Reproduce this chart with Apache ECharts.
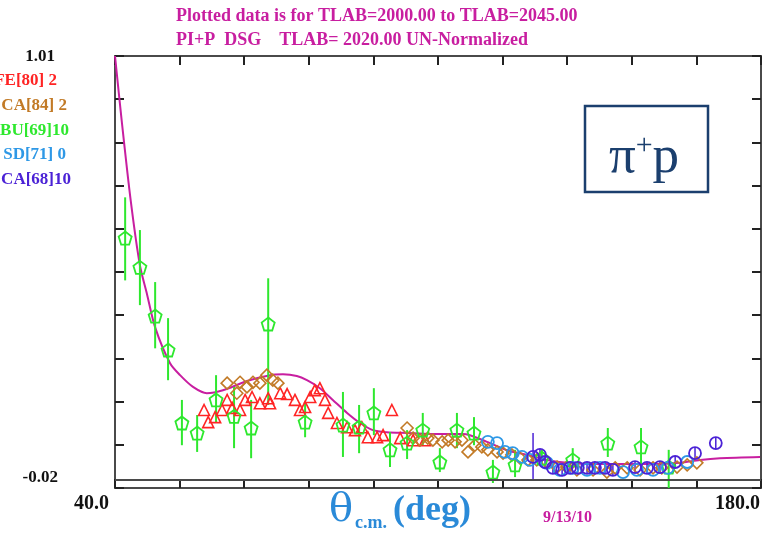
<!DOCTYPE html>
<html><head><meta charset="utf-8">
<script src="https://cdn.jsdelivr.net/npm/echarts@6/dist/echarts.min.js"></script>
<style>html,body{margin:0;padding:0;background:#fff}#c{width:776px;height:533px}</style>
</head><body><div id="c"></div>
<script>
// ---------- data (x = theta c.m. in deg, y = dsg) ----------
const titleLines = ["Plotted data is for TLAB=2000.00 to TLAB=2045.00", "PI+P  DSG    TLAB= 2020.00 UN-Normalized"];
const legendNames = ["FE[80] 2", "CA[84] 2", "BU[69]10", "SD[71] 0", "CA[68]10"];
const xTickLabels = ["40.0", "180.0"];
const yTickLabels = ["1.01", "-0.02"];
const dateLabel = "9/13/10";

// fit curve
const curve = [[40,1.01],[41.45,0.856],[43.4,0.666],[45.4,0.511],[46.9,0.444],[48.7,0.363],[51.9,0.278],[54.1,0.249],[56.9,0.221],[59.9,0.206],[63.4,0.213],[68.6,0.235],[73.6,0.249],[76.4,0.251],[79.4,0.247],[81.6,0.237],[84.4,0.218],[87.2,0.190],[90.3,0.159],[93.1,0.135],[95.9,0.118],[98.9,0.113],[103.3,0.111],[108.3,0.109],[115.4,0.109],[120.6,0.090],[125.0,0.070],[129.3,0.059],[133.6,0.047],[138.0,0.040],[143.6,0.037],[149.4,0.037],[156.6,0.037],[162.4,0.040],[166.8,0.047],[171.1,0.051],[179.8,0.054]];

// FE[80] (x, y)
const fe80 = [[59.3,0.166],[60.2,0.137],[61.7,0.149],[63.2,0.166],[64.3,0.190],[65.4,0.171],[67.1,0.166],[68.2,0.190],[69.7,0.197],[71.4,0.182],[73.2,0.194],[73.6,0.182],[75.8,0.206],[77.3,0.204],[79.0,0.190],[80.1,0.166],[81.2,0.173],[82.3,0.197],[83.3,0.213],[84.4,0.218],[85.5,0.190],[86.2,0.159],[88.1,0.135],[90.3,0.125],[92.0,0.118],[93.5,0.125],[94.8,0.101],[96.8,0.101],[98.1,0.106],[100.0,0.166],[101.8,0.099],[104.6,0.094],[107.2,0.094]];

// CA[84] (x, y)
const ca84 = [[64.3,0.230],[66.4,0.206],[67.1,0.232],[68.6,0.221],[69.9,0.232],[71.4,0.230],[72.9,0.249],[74.2,0.237],[75.3,0.230],[103.3,0.123],[104.6,0.099],[106.1,0.094],[107.8,0.099],[108.9,0.094],[110.9,0.090],[112.2,0.094],[113.7,0.090],[115.2,0.094],[116.5,0.066],[118.0,0.082],[119.5,0.078],[120.8,0.071],[122.8,0.066],[124.1,0.063],[126.0,0.059],[127.8,0.051],[129.5,0.047],[131.4,0.047],[133.6,0.042],[135.8,0.030],[137.9,0.030],[140.1,0.023],[143.6,0.023],[146.6,0.018],[148.4,0.028],[151.0,0.028],[153.8,0.023],[156.6,0.028],[158.5,0.028],[161.8,0.030],[164.0,0.035],[166.1,0.040]];

// BU[69] (x, y, low, high)
const bu69 = [[42.2,0.576,0.475,0.673],[45.4,0.506,0.416,0.595],[48.7,0.390,0.313,0.471],[51.5,0.309,0.237,0.385],[54.5,0.135,0.082,0.190],[57.8,0.111,0.066,0.154],[61.9,0.190,0.135,0.249],[65.8,0.151,0.075,0.221],[69.5,0.123,0.051,0.190],[73.2,0.371,0.178,0.480],[81.2,0.137,0.101,0.185],[89.4,0.130,0.054,0.209],[92.9,0.125,0.063,0.178],[96.1,0.159,0.106,0.218],[99.6,0.071,0.030,0.113],[103.3,0.087,0.049,0.118],[106.7,0.118,0.082,0.159],[110.4,0.042,0.018,0.075],[114.1,0.118,0.075,0.159],[117.8,0.111,0.082,0.149],[121.9,0.018,-0.008,0.047],[126.7,0.035,0.006,0.071],[132.5,0.051,0.030,0.071],[139.2,0.047,0.028,0.075],[146.8,0.087,0.054,0.123],[154.0,0.078,0.035,0.123],[160.0,0.030,-0.02,0.071]];

// SD[71] (x, y)
const sd71 = [[120.8,0.090],[122.8,0.087],[124.5,0.066],[126.2,0.063],[128.2,0.054],[129.9,0.047],[133.6,0.040],[136.4,0.023],[139.2,0.028],[142.3,0.023],[145.1,0.028],[150.1,0.018],[153.1,0.023],[156.6,0.023],[159.8,0.028],[164.0,0.042]];

// CA[68] (x, y, low, high)
const ca68 = [[130.6,0.054,-0.001,0.111],[132.1,0.059,0.045,0.073],[133.2,0.042,0.028,0.056],[134.9,0.028,0.014,0.042],[136.9,0.023,0.009,0.037],[138.6,0.028,0.014,0.042],[140.3,0.028,0.014,0.042],[142.3,0.028,0.014,0.042],[144.0,0.028,0.014,0.042],[146.2,0.028,0.014,0.042],[147.9,0.023,0.009,0.037],[152.7,0.030,0.016,0.044],[155.3,0.028,0.014,0.042],[158.1,0.030,0.016,0.044],[161.4,0.042,0.028,0.056],[165.7,0.063,0.049,0.077],[170.2,0.087,0.073,0.101]];

// ---------- styles ----------
const C = {red:'#ff2424', brown:'#c27a26', green:'#2ee82e', blue:'#2e98e6', purple:'#4b22d6', mag:'#c81ea0', frame:'#4a4a4a', box:'#1b3f6e', xt:'#2a8ad8'};
const SERIF = '"Liberation Serif", "DejaVu Serif", serif';
const pentagon = 'path://M0,-1 L0.951,-0.309 L0.588,0.809 L-0.588,0.809 L-0.951,-0.309 Z';

function errSeries(data, color, width) {
  return {
    type: 'custom', clip: true, silent: true, z: 3,
    data: data.map(d => [d[0], d[2], d[3]]),
    renderItem: function (params, api) {
      const a = api.coord([api.value(0), api.value(1)]);
      const b = api.coord([api.value(0), api.value(2)]);
      return {type: 'line', shape: {x1: a[0], y1: a[1], x2: b[0], y2: b[1]}, style: {stroke: color, lineWidth: width}};
    }
  };
}
function markSeries(data, symbol, size, color, bw) {
  return {
    type: 'scatter', symbol: symbol, symbolSize: size, z: 4, silent: true,
    data: data.map(d => [d[0], d[1]]),
    itemStyle: {color: 'rgba(255,255,255,0)', borderColor: color, borderWidth: bw, opacity: 1}
  };
}

const axisCommon = {
  axisLine: {show: true, onZero: false, lineStyle: {color: C.frame, width: 2}},
  axisTick: {show: true, inside: true, length: 9, lineStyle: {color: '#222', width: 2}},
  axisLabel: {show: false}, splitLine: {show: false}
};
const xBase = Object.assign({type: 'value', min: 40, max: 180, interval: 14}, axisCommon);
const yBase = Object.assign({type: 'value', min: -0.02, max: 1.01, interval: 0.103}, axisCommon);

const txt = (x, y, text, color, size, align, weight) => ({
  type: 'text', x: x, y: y, silent: true,
  style: {text: text, fill: color, font: (weight || 'bold') + ' ' + size + 'px ' + SERIF, textAlign: align || 'left', textVerticalAlign: 'middle'}
});

const legendColors = [C.red, C.brown, C.green, C.blue, C.purple];
const legendRight = [57, 67, 69, 66, 71];
const legendY = [81, 106, 131, 155, 180];

const chart = echarts.init(document.getElementById('c'), null, {renderer: 'canvas'});
chart.setOption({
  backgroundColor: '#fff',
  animation: false,
  grid: {left: 115, right: 15, top: 56, bottom: 45},
  xAxis: [Object.assign({position: 'bottom'}, xBase), Object.assign({position: 'top'}, xBase)],
  yAxis: [Object.assign({position: 'left'}, yBase), Object.assign({position: 'right'}, yBase)],
  series: [
    {type: 'line', data: curve, smooth: 0.3, showSymbol: false, z: 2, silent: true,
     lineStyle: {color: C.mag, width: 2},
     markLine: {silent: true, symbol: ['none', 'none'], label: {show: false},
       lineStyle: {color: C.frame, width: 2, type: 'solid'}, data: [{yAxis: 0}]}},
    markSeries(fe80, 'triangle', 11, C.red, 1.6),
    markSeries(ca84, 'diamond', 12, C.brown, 1.6),
    errSeries(bu69, C.green, 2),
    markSeries(bu69, pentagon, 13, C.green, 1.8),
    markSeries(sd71, 'circle', 12, C.blue, 1.8),
    errSeries(ca68, C.purple, 1.5),
    markSeries(ca68, 'circle', 12, C.purple, 1.8)
  ],
  graphic: [
    txt(176, 16, titleLines[0], C.mag, 18),
    txt(176, 40, titleLines[1], C.mag, 18),
    txt(55, 57, yTickLabels[0], '#111', 17, 'right'),
    txt(58, 478, yTickLabels[1], '#111', 17, 'right'),
    txt(109, 504, xTickLabels[0], '#111', 20, 'right'),
    txt(760, 504, xTickLabels[1], '#111', 20, 'right'),
    txt(543, 518, dateLabel, C.mag, 16),
    ...legendNames.map((n, i) => txt(legendRight[i], legendY[i], n, legendColors[i], 17, 'right')),
    {type: 'text', x: 329, y: 511, silent: true,
     style: {text: '{t|θ}{s|c.m.}{d|(deg)}', textVerticalAlign: 'middle',
       rich: {t: {fill: C.xt, font: '40px "DejaVu Serif", serif'},
              s: {fill: C.xt, font: 'bold 18px ' + SERIF, padding: [24, 0, 0, 2]},
              d: {fill: C.xt, font: 'bold 36px ' + SERIF, padding: [0, 0, 0, 6]}}}},
    {type: 'rect', shape: {x: 585, y: 106, width: 123, height: 86}, silent: true,
     style: {fill: '#fff', stroke: C.box, lineWidth: 2.5}},
    {type: 'text', x: 644, y: 158, silent: true,
     style: {text: '{a|π}{b|+}{a|p}', textAlign: 'center', textVerticalAlign: 'middle',
       rich: {a: {fill: C.box, font: '53px ' + SERIF}, b: {fill: C.box, font: '30px ' + SERIF, padding: [0, 0, 24, 0]}}}}
  ]
});
</script></body></html>
